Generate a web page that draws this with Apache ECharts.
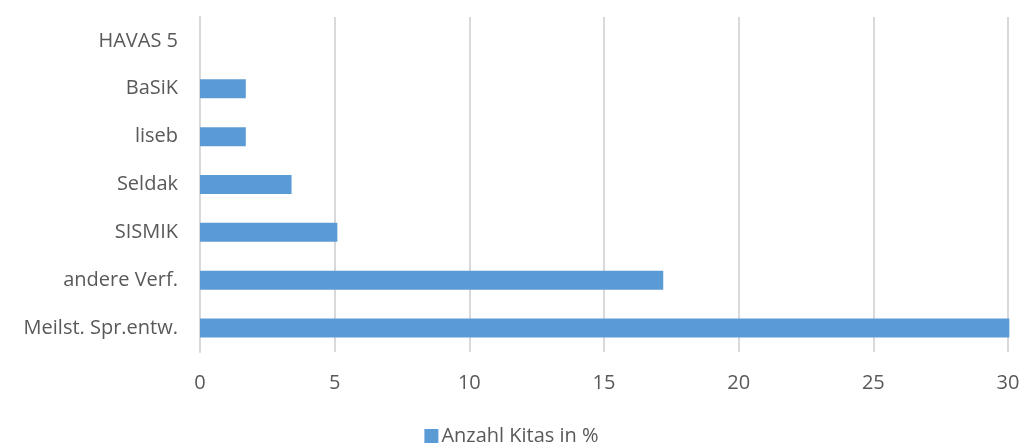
<!DOCTYPE html>
<html>
<head>
<meta charset="utf-8">
<script src="https://cdn.jsdelivr.net/npm/echarts@6/dist/echarts.min.js"></script>
<style>
html, body { margin: 0; padding: 0; background: #fff; }
#main { width: 1023px; height: 446px; }
</style>
</head>
<body>
<div id="main"></div>
<script>
var myChart = echarts.init(document.getElementById('main'));

// categories from bottom to top
var categories = ['Meilst. Spr.entw.', 'andere Verf.', 'SISMIK', 'Seldak', 'liseb', 'BaSiK', 'HAVAS 5'];
var values = [30.05, 17.2, 5.1, 3.4, 1.7, 1.7, 0];
var seriesName = 'Anzahl Kitas in %';

var fontFam = '"Open Sans", "Noto Sans", sans-serif';

option = {
    animation: false,
    grid: {
        left: 200,
        right: 15,
        top: 17,
        bottom: 94
    },
    legend: {
        data: [seriesName],
        bottom: -5,
        left: 'center',
        itemWidth: 14,
        itemHeight: 14,
        itemGap: 4,
        icon: 'rect',
        textStyle: {
            color: '#595959',
            fontSize: 20,
            fontFamily: fontFam,
            padding: [0, 0, 0, -2]
        }
    },
    xAxis: {
        type: 'value',
        min: 0,
        max: 30,
        interval: 5,
        axisLine: { show: false },
        axisTick: { show: false },
        splitLine: { lineStyle: { color: '#d9d9d9', width: 2 } },
        axisLabel: {
            color: '#595959',
            fontSize: 20,
            fontFamily: fontFam,
            margin: 21
        }
    },
    yAxis: {
        type: 'category',
        data: categories,
        axisLine: { show: true, lineStyle: { color: '#d9d9d9', width: 2 } },
        axisTick: { show: false },
        axisLabel: {
            color: '#595959',
            fontSize: 20,
            fontFamily: fontFam,
            margin: 22
        }
    },
    series: [
        {
            name: seriesName,
            type: 'bar',
            data: values,
            barWidth: 19,
            clip: false,
            itemStyle: { color: '#5b9bd5' }
        }
    ]
};

myChart.setOption(option);
</script>
</body>
</html>
